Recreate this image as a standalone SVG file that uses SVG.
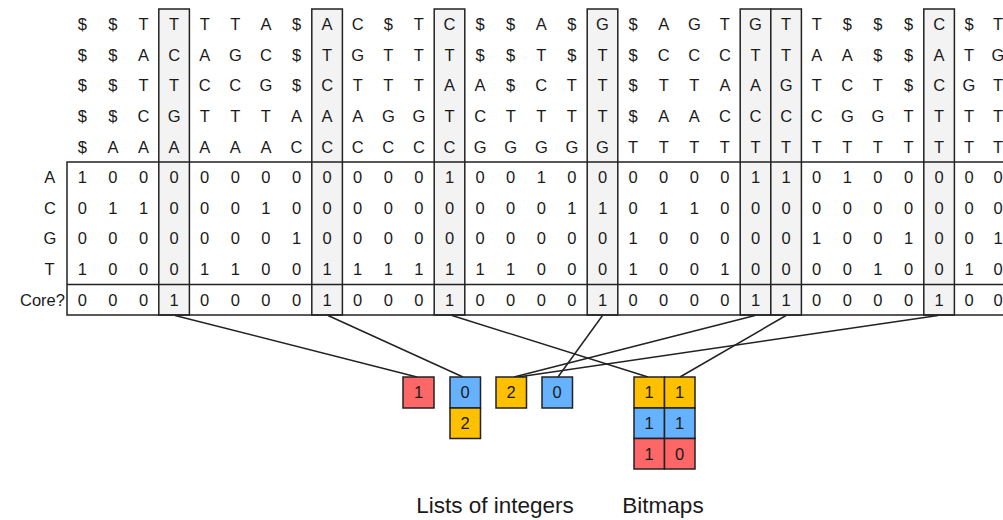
<svg xmlns="http://www.w3.org/2000/svg" width="1003" height="520" viewBox="0 0 1003 520">
  <style>
    .t { font-family: "Liberation Sans", Arial, sans-serif; font-size: 16.5px; fill: #1a1a1a; text-anchor: middle; }
    .lbl { font-family: "Liberation Sans", Arial, sans-serif; font-size: 16.5px; fill: #1a1a1a; }
    .cap { font-family: "Liberation Sans", Arial, sans-serif; font-size: 22.5px; fill: #1a1a1a; text-anchor: middle; }
    .core { fill: #f3f3f3; stroke: #222; stroke-width: 1.5; }
    .frame { fill: none; stroke: #222; stroke-width: 1.5; }
    .red { fill: #fe6767; stroke: #222; stroke-width: 1.5; }
    .blue { fill: #66b2ff; stroke: #222; stroke-width: 1.5; }
    .yellow { fill: #ffc000; stroke: #222; stroke-width: 1.5; }
    .link { fill: none; stroke: #222; stroke-width: 1.5; }
  </style>

  <!-- highlighted core columns (index 3, 8, 12, 17, 22, 23, 28) -->
  <g id="core-columns">
    <rect class="core" x="158.8" y="9" width="30.6" height="306"/>
    <rect class="core" x="311.8" y="9" width="30.6" height="306"/>
    <rect class="core" x="434.2" y="9" width="30.6" height="306"/>
    <rect class="core" x="587.2" y="9" width="30.6" height="306"/>
    <rect class="core" x="740.2" y="9" width="30.6" height="306"/>
    <rect class="core" x="770.8" y="9" width="30.6" height="306"/>
    <rect class="core" x="923.8" y="9" width="30.6" height="306"/>
  </g>

  <!-- bit table frame -->
  <g id="table-frame">
    <rect class="frame" x="67" y="162" width="960" height="153"/>
    <line class="frame" x1="67" y1="284.4" x2="1010" y2="284.4"/>
  </g>

  <!-- sequence letters, one row per text -->
  <g id="sequences" class="t">
    <text x="82.3 112.9 143.5 174.1 204.7 235.3 265.9 296.5 327.1 357.7 388.3 418.9 449.5 480.1 510.7 541.3 571.9 602.5 633.1 663.7 694.3 724.9 755.5 786.1 816.7 847.3 877.9 908.5 939.1 969" y="30.2">$$TTTTA$AC$TC$$A$G$AGTGTT$$$C$</text>
    <text x="82.3 112.9 143.5 174.1 204.7 235.3 265.9 296.5 327.1 357.7 388.3 418.9 449.5 480.1 510.7 541.3 571.9 602.5 633.1 663.7 694.3 724.9 755.5 786.1 816.7 847.3 877.9 908.5 939.1 969" y="60.8">$$ACAGC$TGTTT$$T$T$CCCTTAA$$AT</text>
    <text x="82.3 112.9 143.5 174.1 204.7 235.3 265.9 296.5 327.1 357.7 388.3 418.9 449.5 480.1 510.7 541.3 571.9 602.5 633.1 663.7 694.3 724.9 755.5 786.1 816.7 847.3 877.9 908.5 939.1 969" y="91.4">$$TTCCG$CTTTAA$CTT$TTAAGTCT$CG</text>
    <text x="82.3 112.9 143.5 174.1 204.7 235.3 265.9 296.5 327.1 357.7 388.3 418.9 449.5 480.1 510.7 541.3 571.9 602.5 633.1 663.7 694.3 724.9 755.5 786.1 816.7 847.3 877.9 908.5 939.1 969" y="122">$$CGTTTAAAGGTCTTTT$AACCCCGGTTT</text>
    <text x="82.3 112.9 143.5 174.1 204.7 235.3 265.9 296.5 327.1 357.7 388.3 418.9 449.5 480.1 510.7 541.3 571.9 602.5 633.1 663.7 694.3 724.9 755.5 786.1 816.7 847.3 877.9 908.5 939.1 969" y="152.6">$AAAAAACCCCCCGGGGGTTTTTTTTTTTT</text>
    <!-- last column runs into the right edge -->
    <text x="998" y="30.2">T</text>
    <text x="998" y="60.8">G</text>
    <text x="998" y="91.4">T</text>
    <text x="998" y="122">T</text>
    <text x="998" y="152.6">T</text>
  </g>

  <!-- row labels -->
  <g id="row-labels" class="lbl">
    <text x="44.3" y="183.2">A</text>
    <text x="44" y="213.8">C</text>
    <text x="43.5" y="244.4">G</text>
    <text x="44.6" y="275">T</text>
    <text x="20" y="305.6">Core?</text>
  </g>

  <!-- bit rows A, C, G, T and core flags -->
  <g id="bits" class="t">
    <text x="82.3 112.9 143.5 174.1 204.7 235.3 265.9 296.5 327.1 357.7 388.3 418.9 449.5 480.1 510.7 541.3 571.9 602.5 633.1 663.7 694.3 724.9 755.5 786.1 816.7 847.3 877.9 908.5 939.1 969" y="183.2">100000000000100100000011010000</text>
    <text x="82.3 112.9 143.5 174.1 204.7 235.3 265.9 296.5 327.1 357.7 388.3 418.9 449.5 480.1 510.7 541.3 571.9 602.5 633.1 663.7 694.3 724.9 755.5 786.1 816.7 847.3 877.9 908.5 939.1 969" y="213.8">011000100000000011011000000000</text>
    <text x="82.3 112.9 143.5 174.1 204.7 235.3 265.9 296.5 327.1 357.7 388.3 418.9 449.5 480.1 510.7 541.3 571.9 602.5 633.1 663.7 694.3 724.9 755.5 786.1 816.7 847.3 877.9 908.5 939.1 969" y="244.4">000000010000000000100000100100</text>
    <text x="82.3 112.9 143.5 174.1 204.7 235.3 265.9 296.5 327.1 357.7 388.3 418.9 449.5 480.1 510.7 541.3 571.9 602.5 633.1 663.7 694.3 724.9 755.5 786.1 816.7 847.3 877.9 908.5 939.1 969" y="275">100011001111111000100100001001</text>
    <text x="82.3 112.9 143.5 174.1 204.7 235.3 265.9 296.5 327.1 357.7 388.3 418.9 449.5 480.1 510.7 541.3 571.9 602.5 633.1 663.7 694.3 724.9 755.5 786.1 816.7 847.3 877.9 908.5 939.1 969" y="305.6">000100001000100001000011000010</text>
    <text x="998" y="183.2">0</text>
    <text x="998" y="213.8">0</text>
    <text x="998" y="244.4">1</text>
    <text x="998" y="275">0</text>
    <text x="998" y="305.6">0</text>
  </g>

  <!-- connectors from core columns to encoded values -->
  <g id="connectors">
    <line class="link" x1="175" y1="315.5" x2="417" y2="377"/>
    <line class="link" x1="328" y1="315.5" x2="463" y2="377"/>
    <line class="link" x1="452" y1="315.5" x2="648" y2="377"/>
    <line class="link" x1="602.5" y1="315.5" x2="558" y2="377"/>
    <line class="link" x1="755" y1="315.5" x2="514" y2="377"/>
    <line class="link" x1="786" y1="315.5" x2="680" y2="377"/>
    <line class="link" x1="938" y1="315.5" x2="518" y2="377"/>
  </g>

  <!-- integer list encodings -->
  <g id="list-1">
    <rect class="red" x="403" y="377" width="31" height="31"/>
    <text class="t" x="418.5" y="398.4">1</text>
  </g>
  <g id="list-2">
    <rect class="blue" x="450" y="377" width="30.5" height="31"/>
    <rect class="yellow" x="450" y="408" width="30.5" height="30.5"/>
    <text class="t" x="465.2" y="398.4">0</text>
    <text class="t" x="465.2" y="429">2</text>
  </g>
  <g id="list-3">
    <rect class="yellow" x="496" y="377" width="30.5" height="31"/>
    <text class="t" x="511.2" y="398.4">2</text>
  </g>
  <g id="list-4">
    <rect class="blue" x="542" y="377" width="30.5" height="31"/>
    <text class="t" x="557.2" y="398.4">0</text>
  </g>

  <!-- bitmap encodings -->
  <g id="bitmap-left">
    <rect class="yellow" x="634" y="377" width="30.5" height="31"/>
    <rect class="blue" x="634" y="408" width="30.5" height="30.5"/>
    <rect class="red" x="634" y="438.5" width="30.5" height="30.5"/>
    <text class="t" x="649.2" y="398.4">1</text>
    <text class="t" x="649.2" y="429">1</text>
    <text class="t" x="649.2" y="459.6">1</text>
  </g>
  <g id="bitmap-right">
    <rect class="yellow" x="664.5" y="377" width="30.5" height="31"/>
    <rect class="blue" x="664.5" y="408" width="30.5" height="30.5"/>
    <rect class="red" x="664.5" y="438.5" width="30.5" height="30.5"/>
    <text class="t" x="679.7" y="398.4">1</text>
    <text class="t" x="679.7" y="429">1</text>
    <text class="t" x="679.7" y="459.6">0</text>
  </g>

  <!-- captions -->
  <g id="captions">
    <text class="cap" x="495" y="513">Lists of integers</text>
    <text class="cap" x="663" y="513">Bitmaps</text>
  </g>
</svg>
